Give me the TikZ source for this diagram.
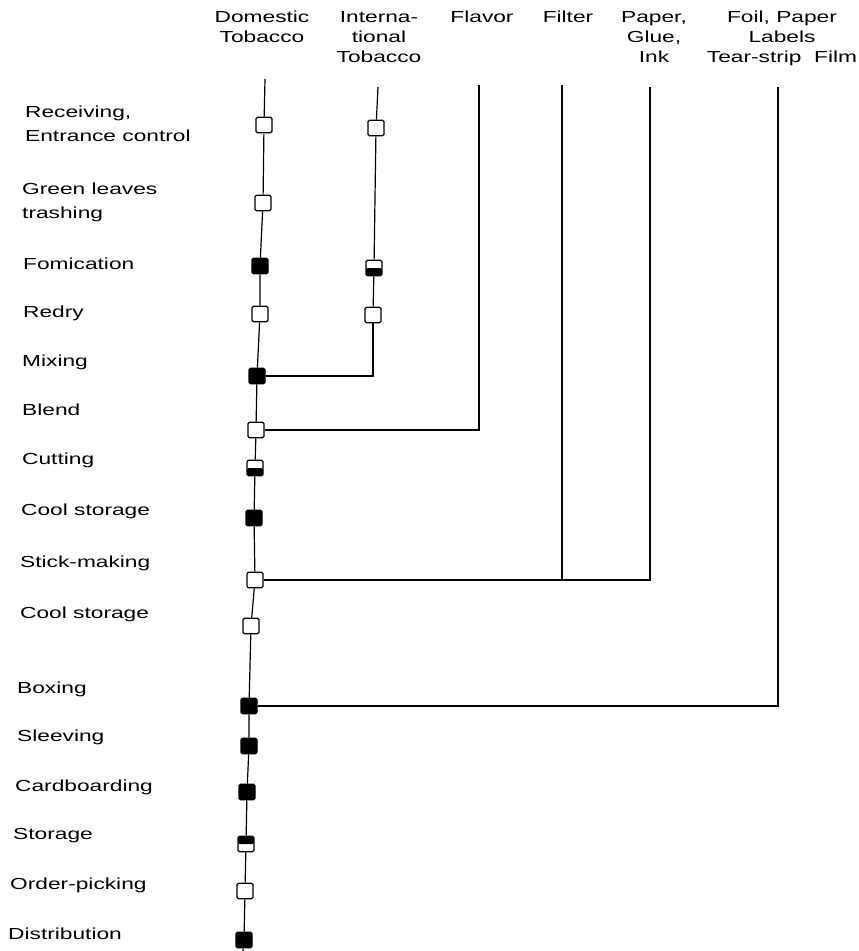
\documentclass[tikz,border=0pt]{standalone}
\usepackage{fontspec}
\setmainfont{Liberation Sans}[FakeStretch=1.42]
\begin{document}
\begin{tikzpicture}[x=1pt,y=-1pt,
  box/.style={draw, line width=1.3pt, rounded corners=1.5pt, minimum width=16pt,
              minimum height=15.5pt, inner sep=0pt, fill=white},
  fullbox/.style={box, fill=black},
  lowhalf/.style={box, path picture={\fill[black] (path picture bounding box.west)
              rectangle (path picture bounding box.south east);}},
  tophalf/.style={box, path picture={\fill[black] (path picture bounding box.north west)
              rectangle (path picture bounding box.east);}},
  flow/.style={line width=1.2pt},
  lab/.style={anchor=west, inner sep=0pt, align=left,
              font=\fontsize{16}{24}\selectfont},
  head/.style={anchor=north, inner sep=0pt, align=center,
              font=\fontsize{16}{20}\selectfont}]
\useasboundingbox (0,0) rectangle (859,951);

% column headings
\node[head] (hdom) at (262,11) {Domestic\\Tobacco};
\node[head] (hint) at (379,11) {Interna-\\tional\\Tobacco};
\node[head] (hfla) at (482,11) {Flavor};
\node[head] (hfil) at (568,11) {Filter};
\node[head] (hpap) at (654,11) {Paper,\\Glue,\\Ink};
\node[head] (hfoi) at (782,11) {Foil, Paper\\Labels\\Tear-strip\ \ Film};

% process step labels
\node[lab] (l1)  at (25,124) {Receiving,\\Entrance control};
\node[lab] (l2)  at (22,202) {Green leaves\\trashing};
\node[lab] (l3)  at (23,264) {Fomication};
\node[lab] (l4)  at (23,313) {Redry};
\node[lab] (l5)  at (22,362) {Mixing};
\node[lab] (l6)  at (22,410) {Blend};
\node[lab] (l7)  at (22,460) {Cutting};
\node[lab] (l8)  at (21,511) {Cool storage};
\node[lab] (l9)  at (20,563) {Stick-making};
\node[lab] (l10) at (20,614) {Cool storage};
\node[lab] (l11) at (17,689) {Boxing};
\node[lab] (l12) at (17,737) {Sleeving};
\node[lab] (l13) at (15,787) {Cardboarding};
\node[lab] (l14) at (13,836) {Storage};
\node[lab] (l15) at (10,885) {Order-picking};
\node[lab] (l16) at (8,934)  {Distribution};

% line ends
\coordinate (dtop) at (265,79);
\coordinate (itop) at (378,87);
\coordinate (flav) at (479,85);
\coordinate (filt) at (562,85);
\coordinate (pap)  at (650,87);
\coordinate (foil) at (778,87);
\coordinate (dbot) at (243,951);

% main (domestic) line of stations
\node[box]      (r1)  at (264,125) {};
\node[box]      (g1)  at (263,203) {};
\node[fullbox]  (fo1) at (260,266) {};
\node[box]      (rd1) at (260,314) {};
\node[fullbox]  (mx)  at (257,376) {};
\node[box]      (bl)  at (256,430) {};
\node[lowhalf]  (cu)  at (255,468) {};
\node[fullbox]  (cs1) at (254,518) {};
\node[box]      (st)  at (255,580) {};
\node[box]      (cs2) at (251,626) {};
\node[fullbox]  (bx)  at (249,706) {};
\node[fullbox]  (sl)  at (249,746) {};
\node[fullbox]  (cb)  at (247,792) {};
\node[tophalf]  (sg)  at (246,844) {};
\node[box]      (op)  at (245,891) {};
\node[fullbox]  (di)  at (244,940) {};

% international line
\node[box]     (i1) at (376,128) {};
\node[lowhalf] (i2) at (374,268) {};
\node[box]     (i3) at (373,315) {};

% connectors
\draw[flow] (dtop) -- (r1) -- (g1) -- (fo1) -- (rd1) -- (mx) -- (bl) -- (cu) -- (cs1)
  -- (st) -- (cs2) -- (bx) -- (sl) -- (cb) -- (sg) -- (op) -- (di) -- (dbot);
\draw[flow] (itop) -- (i1) -- (i2) -- (i3);
\draw[flow] (i3) |- (mx);
\draw[flow] (flav) |- (bl);
\draw[flow] (pap) |- (st);
\draw[flow] (filt) -- (filt |- st);
\draw[flow] (foil) |- (bx);
\end{tikzpicture}
\end{document}
